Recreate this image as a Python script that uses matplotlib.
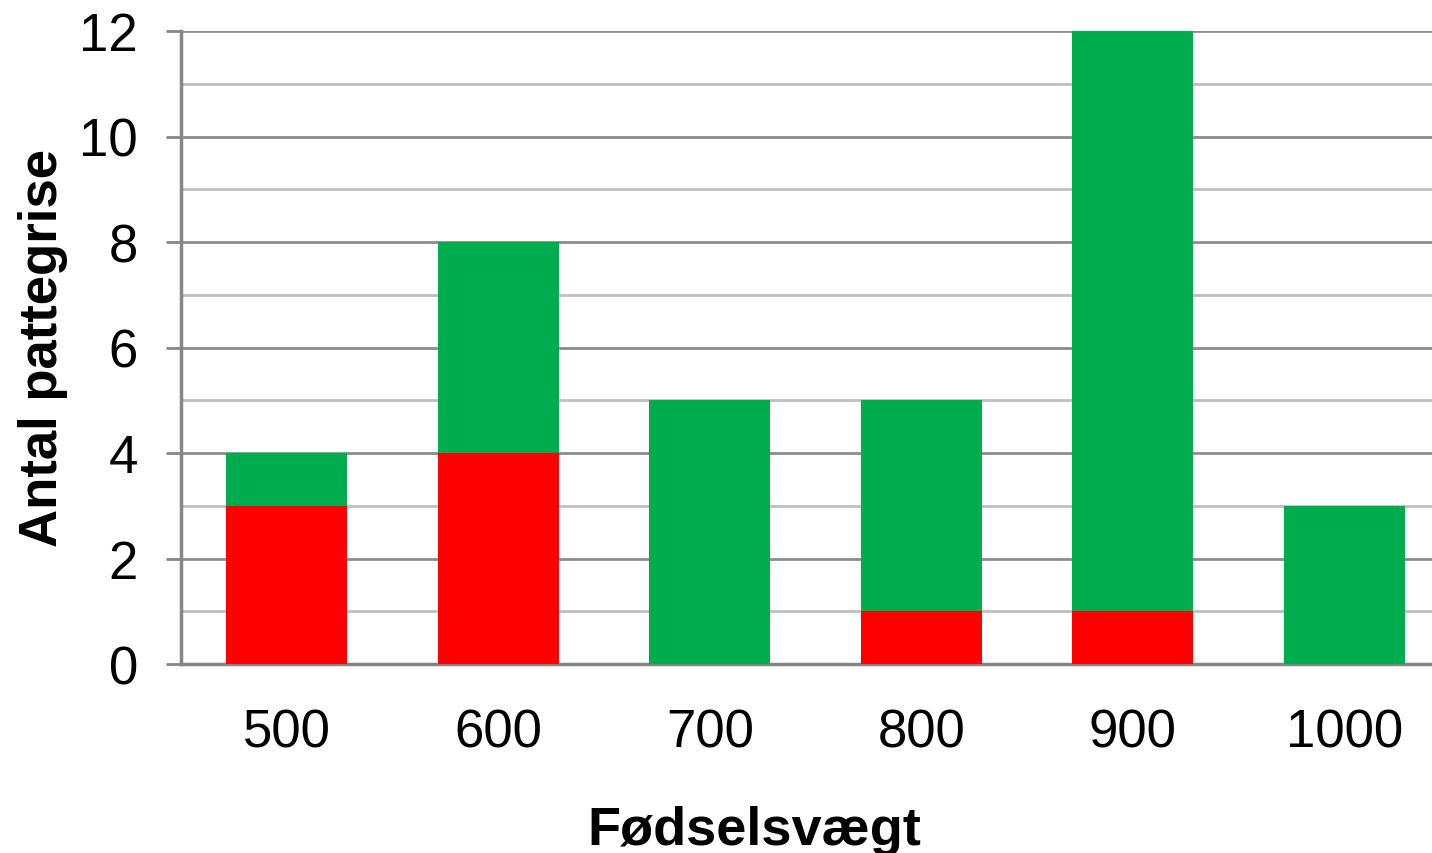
import numpy as np
import matplotlib.pyplot as plt

plt.rcParams['font.family'] = ['Liberation Sans', 'DejaVu Sans']

categories = ['500', '600', '700', '800', '900', '1000']
red_vals = [3, 4, 0, 1, 1, 0]
green_vals = [1, 4, 5, 4, 11, 3]

fig = plt.figure(figsize=(14.32, 8.54), dpi=100)
ax = fig.add_axes([181 / 1432, 189 / 854, 1269 / 1432, 633 / 854])

x = np.arange(len(categories))
w = 0.57
ax.bar(x, red_vals, w, color='#ff0000', zorder=3)
ax.bar(x, green_vals, w, bottom=red_vals, color='#00ad4e', zorder=3)

ax.set_xlim(-0.5, 5.5)
ax.set_ylim(0, 12)
ax.set_yticks(np.arange(0, 13, 2))
ax.set_yticks(np.arange(1, 12, 2), minor=True)
ax.set_xticks(x)
ax.set_xticklabels(categories)

ax.grid(axis='y', which='major', color='#8c8c8c', linewidth=2, zorder=0)
ax.grid(axis='y', which='minor', color='#bfbfbf', linewidth=2, zorder=0)
ax.set_axisbelow(True)

for s in ['top', 'right']:
    ax.spines[s].set_visible(False)
ax.spines['left'].set_color('#868686')
ax.spines['left'].set_linewidth(2.5)
ax.spines['bottom'].set_color('#868686')
ax.spines['bottom'].set_linewidth(2.5)

ax.tick_params(axis='y', which='major', length=11, width=2, color='#868686',
               labelsize=38, pad=20)
ax.tick_params(axis='y', which='minor', length=0)
ax.tick_params(axis='x', length=0, labelsize=38, pad=31)

ax.set_xlabel('Fødselsvægt', fontsize=39, fontweight='bold', va='top')
ax.xaxis.set_label_coords(0.452, -0.222)
ax.set_ylabel('Antal pattegrise', fontsize=38, fontweight='bold')
ax.yaxis.set_label_coords(-0.089, 0.5)

fig.savefig('out.png', dpi=100)
